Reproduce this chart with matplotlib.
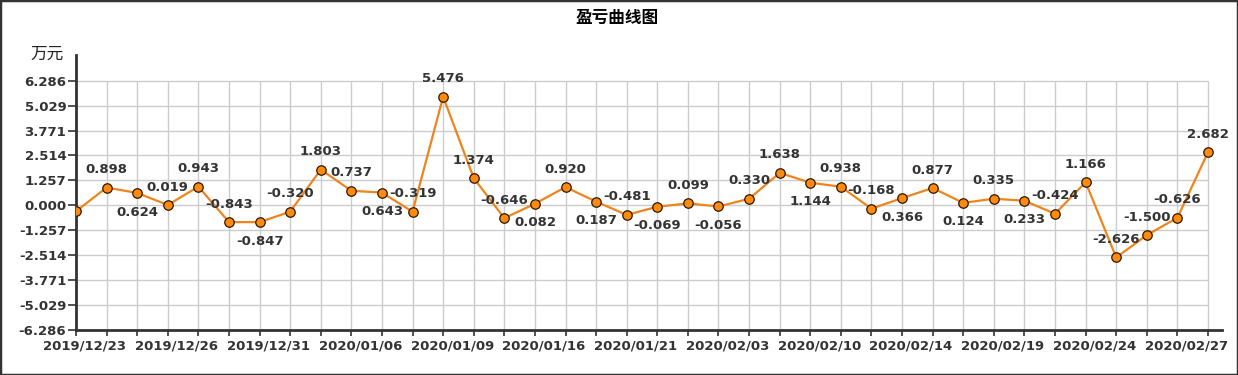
import matplotlib
matplotlib.use("Agg")
import matplotlib.pyplot as plt
import matplotlib.transforms as mtransforms
from matplotlib.patches import Rectangle

# ---- data ----
values = [-0.300, 0.898, 0.624, 0.019, 0.943, -0.843, -0.847, -0.320, 1.803, 0.737,
          0.643, -0.319, 5.476, 1.374, -0.646, 0.082, 0.920, 0.187, -0.481, -0.069,
          0.099, -0.056, 0.330, 1.638, 1.144, 0.938, -0.168, 0.366, 0.877, 0.124,
          0.335, 0.233, -0.424, 1.166, -2.626, -1.500, -0.626, 2.682]
date_labels = ["2019/12/23", "2019/12/26", "2019/12/31", "2020/01/06", "2020/01/09",
               "2020/01/16", "2020/01/21", "2020/02/03", "2020/02/10", "2020/02/14",
               "2020/02/19", "2020/02/24", "2020/02/27"]
y_ticks = [-6.286, -5.029, -3.771, -2.514, -1.257, 0.000, 1.257, 2.514, 3.771, 5.029, 6.286]
title = "盈亏曲线图"
unit = "万元"

# label placement (styling): 'u' above, 'd' below, '' none
placement = ['', 'u', 'd', 'u', 'u', 'u', 'd', 'u', 'u', 'u',
             'd', 'u', 'u', 'u', 'u', 'd', 'u', 'd', 'u', 'd',
             'u', 'd', 'u', 'u', 'd', 'u', 'u', 'd', 'u', 'd',
             'u', 'd', 'u', 'u', 'u', 'u', 'u', 'u']

W, H, DPI = 1238, 375, 100
fig = plt.figure(figsize=(W / DPI, H / DPI), dpi=DPI)
fig.patch.set_facecolor("white")

left_px, right_px, top_px, bottom_px = 76, 1222, 55, 330
ax = fig.add_axes([left_px / W, 1 - bottom_px / H, (right_px - left_px) / W, (bottom_px - top_px) / H])

n = len(values)
xs = list(range(n))
ymax_grid = y_ticks[-1]
ymin = y_ticks[0]
px_per_unit = (bottom_px - 80.7) / (ymax_grid - ymin)
ytop = ymax_grid + (80.7 - top_px) / px_per_unit
ax.set_ylim(ymin, ytop)
xper = 30.6
ax.set_xlim(0, (n - 1) + (right_px - 1208) / xper)

grid_c = "#cccccc"
ax.hlines(y_ticks[1:], 0, n - 1, colors=grid_c, linewidth=1, zorder=1)
ax.vlines(xs[1:], ymin, ymax_grid, colors=grid_c, linewidth=1, zorder=1)

ax.plot(xs, values, color="#F0841C", linewidth=1.6, zorder=3,
        marker="o", markersize=6.8, markerfacecolor="#FF8A0D",
        markeredgecolor="#2a1800", markeredgewidth=0.9)

txt_c = "#333333"
for x, v, p in zip(xs, values, placement):
    if not p:
        continue
    dy = 12.9 if p == 'u' else -13.7
    ax.annotate(f"{v:.3f}", (x, v), xytext=(0, dy), textcoords="offset points",
                ha="center", va="center", fontsize=9.5, fontweight="bold",
                color=txt_c, family="DejaVu Sans", zorder=4)

for s in ["top", "right"]:
    ax.spines[s].set_visible(False)
for s in ["left", "bottom"]:
    ax.spines[s].set_color("#333333")
    ax.spines[s].set_linewidth(2)

ax.set_yticks(y_ticks)
ax.set_yticklabels([f"{t:.3f}" for t in y_ticks])
ax.tick_params(axis="y", direction="out", length=6, width=1.2, color="#333333",
               pad=1, labelsize=9.5, labelcolor=txt_c)
for lab in ax.get_yticklabels():
    lab.set_fontweight("bold")

ax.set_xticks(xs)
xt = [""] * n
for k, lab in enumerate(date_labels):
    xt[3 * k] = lab
ax.set_xticklabels(xt)
ax.tick_params(axis="x", direction="out", length=4, width=1.2, color="#333333",
               pad=3, labelsize=9.5, labelcolor=txt_c)
offset = mtransforms.ScaledTranslation(9 / DPI, 0, fig.dpi_scale_trans)
for lab in ax.get_xticklabels():
    lab.set_fontweight("bold")
    lab.set_transform(lab.get_transform() + offset)

fig.text(617 / W, 1 - 18 / H, title, ha="center", va="center", fontsize=12,
         fontweight="bold", family=["Noto Sans CJK SC", "DejaVu Sans"], color="black")
fig.text(47.5 / W, 1 - 54 / H, unit, ha="center", va="center", fontsize=12,
         family=["Noto Sans CJK SC", "DejaVu Sans"], color="#222222")

fig.patches.append(Rectangle((0, 0), 1, 1, transform=fig.transFigure, fill=False,
                             edgecolor="#333333", linewidth=2.5))

fig.savefig("out.png", dpi=DPI)
